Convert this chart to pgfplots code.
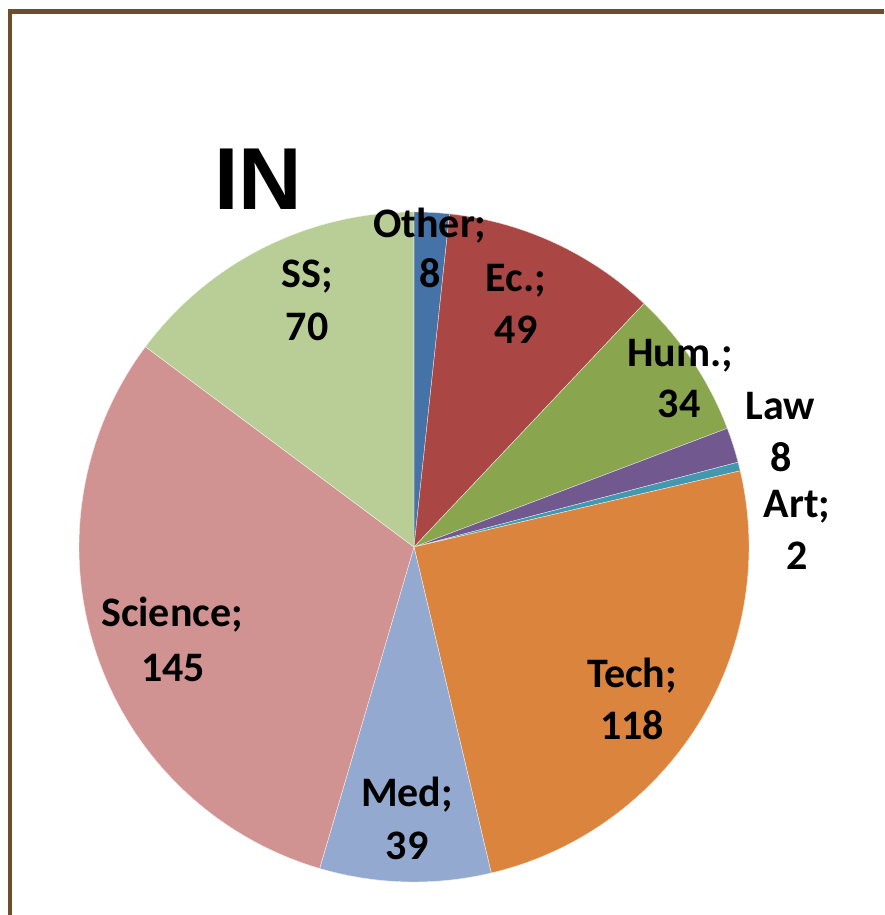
\documentclass[border=0pt]{standalone}
\usepackage{pgfplots}
\pgfplotsset{compat=1.18}
\usepackage{pgfplotstable}
\usepackage{fontspec}
\setmainfont{Carlito}
\newfontfamily\titlefont{Liberation Sans}

\definecolor{slice0}{HTML}{4572A7}
\definecolor{slice1}{HTML}{AA4643}
\definecolor{slice2}{HTML}{89A54E}
\definecolor{slice3}{HTML}{71588F}
\definecolor{slice4}{HTML}{4198AF}
\definecolor{slice5}{HTML}{DB843D}
\definecolor{slice6}{HTML}{93A9CF}
\definecolor{slice7}{HTML}{D19392}
\definecolor{slice8}{HTML}{B9CD96}
\definecolor{frame}{HTML}{704C28}

\pgfplotstableread{
label value
Other 8
Ec. 49
Hum. 34
Law 8
Art 2
Tech 118
Med 39
Science 145
SS 70
}\piedata

% pie geometry (pixel units of the axis)
\def\cx{414}
\def\cy{368}
\def\rr{335}

\begin{document}
\begin{tikzpicture}
\begin{axis}[
  scale only axis, width=442pt, height=457.5pt,
  xmin=0, xmax=884, ymin=0, ymax=915,
  hide axis, clip=false,
]
% total
\def\total{0}
\pgfplotsforeachungrouped \i in {0,...,8}{%
  \pgfplotstablegetelem{\i}{value}\of\piedata
  \pgfmathsetmacro\total{\total+\pgfplotsretval}%
  \xdef\total{\total}%
}
\def\astart{90}
\pgfplotsforeachungrouped \i in {0,...,8}{%
  \pgfplotstablegetelem{\i}{value}\of\piedata
  \pgfmathsetmacro\aend{\astart-\pgfplotsretval/\total*360}%
  \edef\cmd{\noexpand\addplot[fill=slice\i, draw=white!80!slice\i, line width=0.2pt, domain=\aend:\astart, samples=80, smooth=false]
     ({\cx+\rr*cos(x)},{\cy+\rr*sin(x)}) -- (axis cs:\cx,\cy) -- cycle;}%
  \cmd
  \xdef\astart{\aend}%
}

\tikzset{lbl/.style={anchor=base, font=\fontsize{21pt}{24pt}\selectfont\bfseries, inner sep=0pt}}
\node[lbl] at (axis cs:430,677) {Other;};
\node[lbl] at (axis cs:430,627) {8};
\node[lbl] at (axis cs:516,623) {Ec.;};
\node[lbl] at (axis cs:516,571) {49};
\node[lbl] at (axis cs:680,548) {Hum.;};
\node[lbl] at (axis cs:679,497) {34};
\node[lbl] at (axis cs:780,495) {Law};
\node[lbl] at (axis cs:781,443) {8};
\node[lbl] at (axis cs:797,397) {Art;};
\node[lbl] at (axis cs:797,345) {2};
\node[lbl] at (axis cs:632,227) {Tech;};
\node[lbl] at (axis cs:632,175) {118};
\node[lbl] at (axis cs:407,108) {Med;};
\node[lbl] at (axis cs:407,55) {39};
\node[lbl] at (axis cs:172,288) {Science;};
\node[lbl] at (axis cs:173,233) {145};
\node[lbl] at (axis cs:307,627) {SS;};
\node[lbl] at (axis cs:307,574) {70};

\node[anchor=base west, inner sep=0pt, font=\titlefont\fontsize{44pt}{50pt}\selectfont\bfseries] at (axis cs:214,705) {IN};

\draw[frame, line width=2.25pt] (axis cs:10,0) -- (axis cs:10,903.5) -- (axis cs:884,903.5);
\end{axis}
\pgfresetboundingbox
\path (0,0) rectangle (442pt,457.5pt);
\end{tikzpicture}
\end{document}
